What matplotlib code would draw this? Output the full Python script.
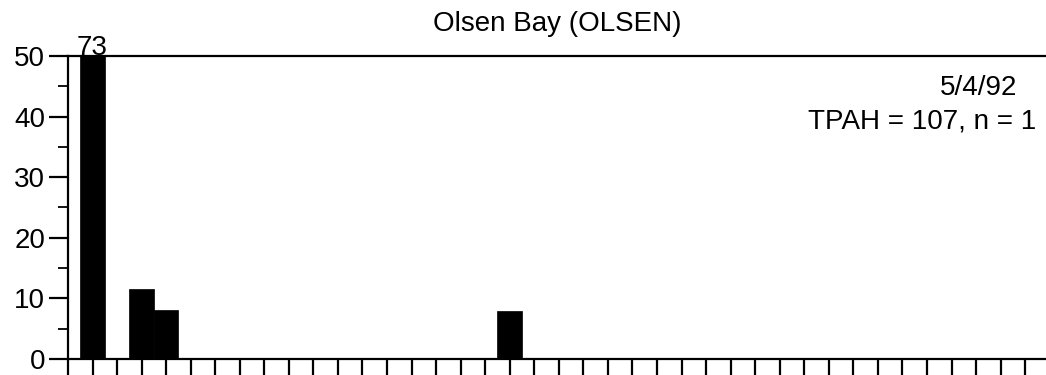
import matplotlib
matplotlib.use("Agg")
import matplotlib.pyplot as plt
from matplotlib.ticker import MultipleLocator

plt.rcParams['font.family'] = ['Liberation Sans', 'DejaVu Sans']

# PAH analyte concentrations, one slot per analyte (slot 0 is the axis origin)
positions = list(range(1, 40))
values = [0.0] * 39
values[0] = 73.0    # slot 1
values[2] = 11.6    # slot 3
values[3] = 8.1     # slot 4
values[17] = 8.0    # slot 18

title = "Olsen Bay (OLSEN)"
date_label = "5/4/92"
summary_label = "TPAH = 107, n = 1"
y_max = 50
fs = 20

fig = plt.figure(figsize=(10.46, 3.75), dpi=100)
ax = fig.add_axes([0.065, 0.0427, 0.935, 0.808])

ax.bar(positions, values, width=1.0, color='black', edgecolor='black',
       linewidth=0.5, align='center', clip_on=True)

ax.set_xlim(0, 39.85)
ax.set_ylim(0, y_max)

# off-scale bars get their value written above the top border
for x, v in zip(positions, values):
    if v > y_max:
        ax.text(x, y_max + 0.2, f"{v:.0f}", ha='center', va='baseline',
                fontsize=fs, clip_on=False)

for side in ('left', 'bottom', 'top'):
    ax.spines[side].set_linewidth(1.6)
ax.spines['right'].set_visible(False)

ax.yaxis.set_major_locator(MultipleLocator(10))
ax.yaxis.set_minor_locator(MultipleLocator(5))
ax.tick_params(axis='y', which='major', direction='out', length=13.5,
               width=1.6, labelsize=fs, pad=3)
ax.tick_params(axis='y', which='minor', direction='out', length=7,
               width=1.3)

ax.set_xticks(range(0, 40))
ax.tick_params(axis='x', which='major', direction='out', length=16,
               width=1.6, labelbottom=False)

fig.text(0.5325, 0.917, title, ha='center', va='baseline', fontsize=fs)
fig.text(1017 / 1046, 1 - 95 / 375, date_label,
         ha='right', va='baseline', fontsize=fs)
fig.text(1036 / 1046, 1 - 129 / 375, summary_label,
         ha='right', va='baseline', fontsize=fs)

fig.savefig("out.png", dpi=100)
